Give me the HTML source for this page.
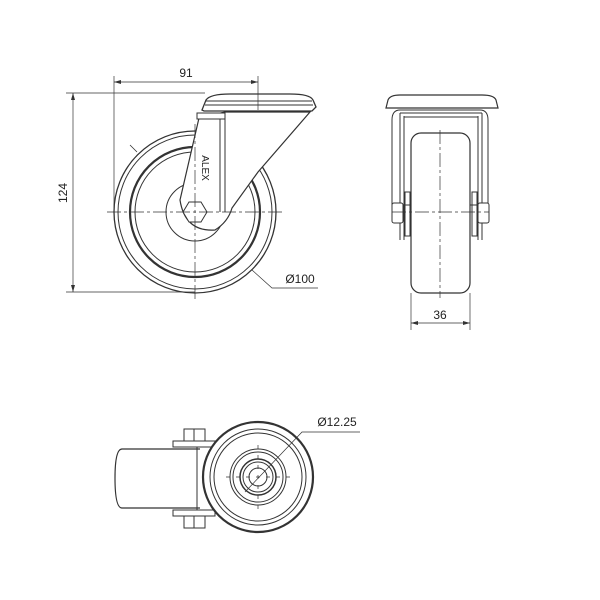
<!DOCTYPE html>
<html><head><style>body{margin:0;background:#fff}svg{display:block}</style></head><body>
<svg width="600" height="600" viewBox="0 0 600 600" xmlns="http://www.w3.org/2000/svg" font-family="Liberation Sans, sans-serif">
<rect width="600" height="600" fill="#fff"/>
<g fill="none" stroke="#333" stroke-width="1">
<!-- side view wheel -->
<circle cx="195" cy="212" r="81" stroke-width="1.3"/>
<circle cx="195" cy="212" r="77"/>
<circle cx="195" cy="212" r="65" stroke-width="2.2"/>
<circle cx="195" cy="212" r="60"/>
<circle cx="195" cy="212" r="29" fill="#fff"/>
<!-- fork -->
<path d="M199 118 L180 200 Q185 232 215 230 Q228 222 232 208 L258 172 Q290 135 310 112 L225 112 Z" fill="#fff" stroke-width="1.2"/>
<line x1="220" y1="118" x2="220" y2="212"/>
<line x1="225" y1="118" x2="225" y2="212"/>
<rect x="197" y="113" width="28" height="6" fill="#fff"/>
<path d="M202 110 L206 100 Q210 94 230 94 L290 94 Q310 94 313 100 L316 107 L312 111 L204 111 Z" fill="#fff" stroke-width="1.3"/>
<line x1="206" y1="101" x2="312" y2="101"/>
<line x1="205" y1="105" x2="313" y2="105"/>
<polygon points="183,212 189,202 201,202 207,212 201,222 189,222" fill="#fff"/>
<!-- centerlines -->
<line x1="107" y1="212" x2="283" y2="212" stroke-dasharray="14,3,3,3" stroke-width="0.7"/>
<line x1="195" y1="124" x2="195" y2="300" stroke-dasharray="14,3,3,3" stroke-width="0.7"/>
<!-- dims -->
<line x1="114" y1="76" x2="114" y2="212" stroke-width="0.7"/>
<line x1="258" y1="76" x2="258" y2="110" stroke-width="0.7"/>
<line x1="114" y1="82" x2="258" y2="82" stroke-width="0.7"/>
<line x1="66" y1="93" x2="205" y2="93" stroke-width="0.7"/>
<line x1="66" y1="292" x2="195" y2="292" stroke-width="0.7"/>
<line x1="73" y1="93" x2="73" y2="292" stroke-width="0.7"/>
<line x1="130" y1="145" x2="137" y2="152" stroke-width="0.8"/>
<polyline points="252,270 272,288 318,288" stroke-width="0.7"/>
<!-- front view -->
<path d="M392 120 Q392 110 400 110 L480 110 Q488 110 488 120 L488 205 L392 205 Z" fill="#fff"/>
<path d="M386 108 L388 100 Q390 95 400 95 L482 95 Q494 95 496 100 L498 108 Z" fill="#fff" stroke-width="1.2"/>
<line x1="400" y1="113" x2="400" y2="240"/><line x1="404" y1="116" x2="404" y2="240"/>
<line x1="482" y1="113" x2="482" y2="240"/><line x1="478" y1="116" x2="478" y2="240"/>
<line x1="400" y1="113" x2="482" y2="113"/><line x1="404" y1="117" x2="478" y2="117"/>
<rect x="411" y="133" width="59" height="160" rx="10" fill="#fff" stroke-width="1.2"/>
<rect x="405" y="192" width="5" height="44"/><rect x="472" y="192" width="5" height="44"/>
<rect x="392" y="203" width="11" height="20" rx="2" fill="#fff"/>
<rect x="478" y="203" width="11" height="20" rx="2" fill="#fff"/>
<line x1="440" y1="130" x2="440" y2="298" stroke-dasharray="14,3,3,3" stroke-width="0.7"/>
<line x1="392" y1="212" x2="489" y2="212" stroke-dasharray="14,3,3,3" stroke-width="0.7"/>
<line x1="411" y1="293" x2="411" y2="330" stroke-width="0.7"/>
<line x1="470" y1="293" x2="470" y2="330" stroke-width="0.7"/>
<line x1="411" y1="323" x2="470" y2="323" stroke-width="0.7"/>
<!-- bottom view -->
<path d="M200 449 L122 449 Q115 449 115 478 Q115 508 122 508 L200 508" fill="#fff" stroke-width="1.2"/>
<rect x="173" y="441" width="42" height="6" fill="#fff"/>
<rect x="173" y="510" width="42" height="6" fill="#fff"/>
<rect x="184" y="429" width="21" height="12" fill="#fff"/>
<rect x="184" y="516" width="21" height="12" fill="#fff"/>
<line x1="194" y1="429" x2="194" y2="441"/><line x1="194" y1="516" x2="194" y2="528"/>
<line x1="197" y1="447" x2="197" y2="510"/>
<circle cx="258" cy="477" r="55" stroke-width="2.2" fill="#fff"/>
<circle cx="258" cy="477" r="48"/>
<circle cx="258" cy="477" r="44"/>
<circle cx="258" cy="477" r="28"/>
<circle cx="258" cy="477" r="25"/>
<circle cx="258" cy="477" r="18" stroke-width="1.5"/>
<circle cx="258" cy="477" r="15"/>
<circle cx="258" cy="477" r="9"/>
<line x1="226" y1="477" x2="290" y2="477" stroke-dasharray="4,6" stroke-width="0.7"/>
<line x1="258" y1="445" x2="258" y2="509" stroke-dasharray="4,6" stroke-width="0.7"/>
<polyline points="245,492 302,432 360,432" stroke-width="0.7"/>
</g>
<g fill="#333">
<polygon points="114,82 121,80 121,84"/><polygon points="258,82 251,80 251,84"/>
<polygon points="73,93 71,100 75,100"/><polygon points="73,292 71,285 75,285"/>
<polygon points="411,323 418,321 418,325"/><polygon points="470,323 463,321 463,325"/>
</g>
<g font-size="12" fill="#222">
<text x="186" y="77" text-anchor="middle">91</text>
<text x="0" y="0" transform="translate(67,193) rotate(-90)" text-anchor="middle">124</text>
<text x="300" y="283" text-anchor="middle">Ø100</text>
<text x="440" y="319" text-anchor="middle">36</text>
<text x="337" y="426" text-anchor="middle">Ø12.25</text>
<text x="0" y="0" transform="translate(202,168) rotate(90)" font-size="10" text-anchor="middle">ALEX</text>
</g>
</svg>
</body></html>
